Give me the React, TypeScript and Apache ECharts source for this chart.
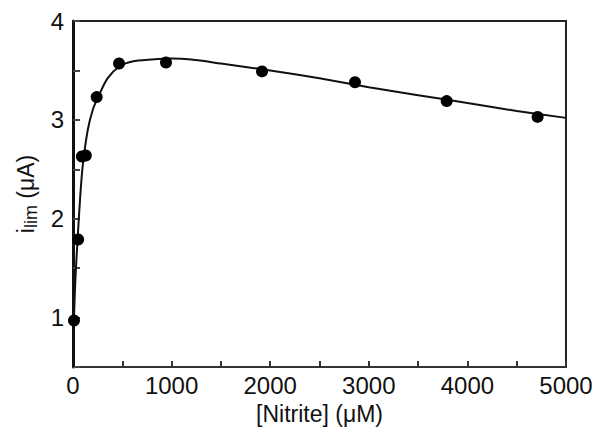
import React, { useEffect, useRef } from "react";
import * as echarts from "echarts";

// Measured points: [Nitrite] (µM) and i_lim (µA)
const pointX = [10, 52, 90, 130, 240, 467, 943, 1917, 2860, 3790, 4712];
const pointY = [0.97, 1.79, 2.63, 2.64, 3.23, 3.57, 3.58, 3.49, 3.38, 3.19, 3.03];

// Fitted curve
const curveX = [0, 5, 10, 25, 50, 75, 100, 150, 200, 250, 350, 470, 600, 800, 1000, 1200, 1500, 2000, 2500, 3000, 3500, 4000, 4500, 5000];
const curveY = [0.5, 0.75, 1.0, 1.4, 1.85, 2.25, 2.55, 2.9, 3.1, 3.22, 3.42, 3.54, 3.59, 3.61, 3.62, 3.61, 3.57, 3.5, 3.42, 3.33, 3.25, 3.17, 3.09, 3.02];

const xTickLabels = ["0", "1000", "2000", "3000", "4000", "5000"];
const yTickLabels = ["1", "2", "3", "4"];

const FONT = "'Liberation Sans', Arial, sans-serif";

export default function App() {
  const ref = useRef<HTMLDivElement>(null);
  useEffect(() => {
    if (!ref.current) return;
    const chart = echarts.init(ref.current, undefined, { renderer: "svg" });
    chart.setOption({
      animation: false,
      backgroundColor: "#fff",
      grid: {
        left: 73,
        right: 35,
        top: 21,
        bottom: 68,
        show: true,
        borderColor: "#222",
        borderWidth: 2,
        backgroundColor: "transparent",
      },
      xAxis: {
        type: "value",
        min: 0,
        max: 5000,
        interval: 500,
        name: "[Nitrite] (μM)",
        nameLocation: "middle",
        nameGap: 35,
        nameTextStyle: { fontFamily: FONT, fontSize: 23, color: "#111" },
        axisLine: { show: true, lineStyle: { color: "#333", width: 2 } },
        axisTick: { show: true, inside: true, length: 6, lineStyle: { color: "#333", width: 2 } },
        splitLine: { show: false },
        axisLabel: {
          fontFamily: FONT,
          fontSize: 24,
          color: "#111",
          margin: 6,
          formatter: (v: number) => (xTickLabels.includes(String(v)) ? String(v) : ""),
        },
      },
      yAxis: {
        type: "value",
        min: 0.5,
        max: 4,
        interval: 0.5,
        name: "i{sub|lim} (μA)",
        nameLocation: "middle",
        nameGap: 28,
        nameRotate: 90,
        nameTextStyle: {
          fontFamily: FONT,
          fontSize: 23,
          color: "#111",
          rich: {
            sub: { fontFamily: FONT, fontSize: 18, color: "#111", verticalAlign: "bottom", padding: [10, 0, 0, 0] },
          },
        },
        axisLine: { show: true, lineStyle: { color: "#111", width: 3 } },
        axisTick: { show: true, inside: true, length: 7, lineStyle: { color: "#444", width: 2 } },
        splitLine: { show: false },
        axisLabel: {
          fontFamily: FONT,
          fontSize: 24,
          color: "#111",
          margin: 9,
          formatter: (v: number) => (yTickLabels.includes(String(v)) ? String(v) : ""),
        },
      },
      series: [
        {
          type: "line",
          data: curveX.map((x, i) => [x, curveY[i]]),
          smooth: 0.3,
          showSymbol: false,
          lineStyle: { color: "#111", width: 2 },
          clip: true,
          z: 2,
        },
        {
          type: "scatter",
          data: pointX.map((x, i) => [x, pointY[i]]),
          symbol: "circle",
          symbolSize: 12,
          itemStyle: { color: "#000", opacity: 1 },
          z: 3,
        },
      ],
    });
    return () => chart.dispose();
  }, []);
  return (
    <div
      ref={ref}
      style={{ position: "fixed", left: 0, top: 0, width: 601, height: 435, background: "#fff" }}
    />
  );
}
